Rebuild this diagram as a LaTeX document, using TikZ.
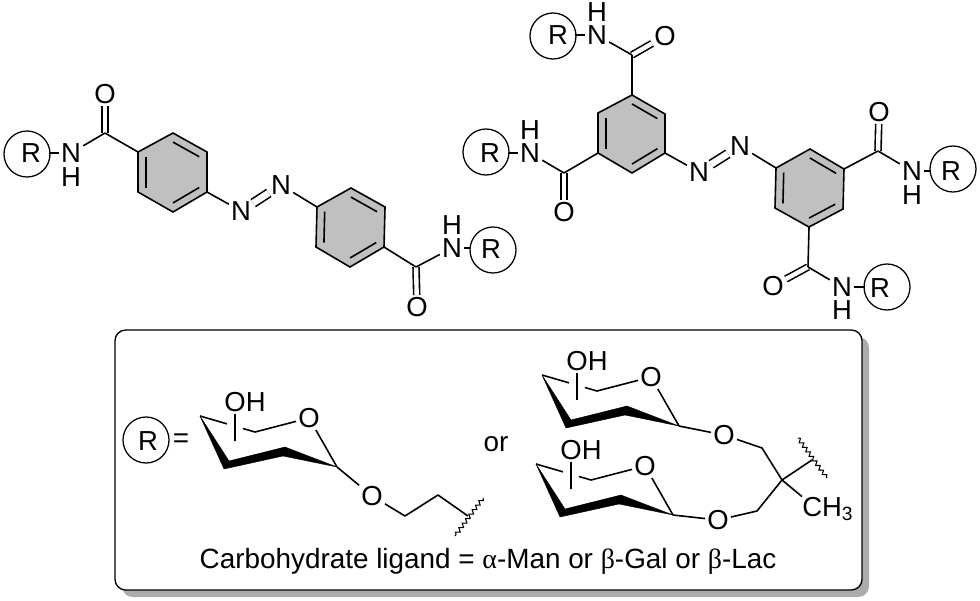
\documentclass[tikz,border=0pt]{standalone}
\usepackage{fontspec}
\setmainfont{Liberation Sans}
\newfontfamily\greekfont{Liberation Serif}
\usetikzlibrary{calc, decorations.pathmorphing}
\definecolor{ringgray}{RGB}{192,192,192}
\definecolor{shadowgray}{RGB}{172,172,172}
\tikzset{
  bond/.style = {line width=1.2pt},
  dblbond/.style = {bond, double, double distance=3.3pt},
  azobond/.style = {bond, double, double distance=5pt},
  atom/.style = {inner sep=1.5pt, font=\fontsize{20.6}{25}\selectfont},
  hatom/.style = {inner sep=0pt, font=\fontsize{20.6}{25}\selectfont},
  label/.style = {inner sep=0pt, font=\fontsize{20.9}{25}\selectfont},
  rgroup/.style = {circle, draw, line width=.95pt, inner sep=0pt, minimum size=34.5pt},
  wavy/.style = {line width=.8pt, decorate, decoration={snake, amplitude=1.4pt, segment length=4.2pt}},
  wedge/.style = {fill=black, draw=black, line width=.3pt, line join=round}
}
\newcommand{\benzring}[7]{
  \coordinate (#1a) at #2;
  \coordinate (#1b) at #3;
  \coordinate (#1c) at #4;
  \coordinate (#1d) at #5;
  \coordinate (#1e) at #6;
  \coordinate (#1f) at #7;
  \coordinate (#1m) at ($(#1a)!.5!(#1d)$);
  \draw [bond, fill=ringgray] (#1a) -- (#1b) -- (#1c) -- (#1d) -- (#1e) -- (#1f) -- cycle;
  \draw [bond] ($(#1a)!.23!(#1m)$) -- ($(#1b)!.23!(#1m)$);
  \draw [bond] ($(#1c)!.23!(#1m)$) -- ($(#1d)!.23!(#1m)$);
  \draw [bond] ($(#1e)!.23!(#1m)$) -- ($(#1f)!.23!(#1m)$);
}
\begin{document}
\begin{tikzpicture}[x=.75pt, y=-.75pt]
  \useasboundingbox (0,0) rectangle (980,600);

  \benzring{ra}{(173,133)}{(207,152)}{(207,192)}{(173,212)}{(138,192)}{(138,152)}
  \benzring{rb}{(351,188)}{(385,207)}{(384,247)}{(350,267)}{(316,247)}{(317,207)}
  \benzring{rc}{(632,95)}{(665,114)}{(665,153)}{(632,173)}{(598,153)}{(598,113)}
  \benzring{rd}{(810,149)}{(844,169)}{(843,209)}{(809,227)}{(775,208)}{(776,168)}

  \node (Ra) at (27,154) [rgroup] {};
  \node (Rta) at (31,153) [hatom] {R};
  \node (Na) at (71,153) [atom] {N};
  \node (Ha) at (71,177) [hatom] {H};
  \coordinate (Ca) at (105,133);
  \node (Oa) at (105,94) [atom] {O};
  \draw [dblbond] (Ca) -- (Oa);
  \draw [bond] (Na) -- (Ca);
  \draw [bond] (Ca) -- (raf);
  \draw [bond] (Na) -- ([xshift=-1.5pt]Na -| Ra.east);

  \node (Az) at (241,211) [atom] {N};
  \node (Bz) at (281,185) [atom] {N};
  \draw [azobond] (Az) -- (Bz);
  \draw [bond] (rac) -- (Az);
  \draw [bond] (Bz) -- (rbf);

  \coordinate (Cb) at (416,267);
  \node (Ob) at (417,307) [atom] {O};
  \node (Nb) at (452,248) [atom] {N};
  \node (Hb) at (452,225) [hatom] {H};
  \node (Rb) at (493,250) [rgroup] {};
  \node (Rtb) at (491,249) [hatom] {R};
  \draw [dblbond] (Cb) -- (Ob);
  \draw [bond] (rbc) -- (Cb);
  \draw [bond] (Cb) -- (Nb);
  \draw [bond] (Nb) -- ([xshift=1.5pt]Nb -| Rb.west);

  \coordinate (Cc) at (632,55);
  \node (Oc) at (665,36) [atom] {O};
  \node (Nc) at (597,35) [atom] {N};
  \node (Hc) at (597,12) [hatom] {H};
  \node (Rc) at (553,36) [rgroup] {};
  \node (Rtc) at (558,35) [hatom] {R};
  \draw [dblbond] (Cc) -- (Oc);
  \draw [bond] (rca) -- (Cc);
  \draw [bond] (Cc) -- (Nc);
  \draw [bond] (Nc) -- ([xshift=-1.5pt]Nc -| Rc.east);

  \coordinate (Cd) at (564,173);
  \node (Od) at (564,212) [atom] {O};
  \node (Nd) at (530,153) [atom] {N};
  \node (Hd) at (530,130) [hatom] {H};
  \node (Rd) at (486,152) [rgroup] {};
  \node (Rtd) at (490,153) [hatom] {R};
  \draw [dblbond] (Cd) -- (Od);
  \draw [bond] (rce) -- (Cd);
  \draw [bond] (Cd) -- (Nd);
  \draw [bond] (Nd) -- ([xshift=-1.5pt]Nd -| Rd.east);

  \node (Cz) at (699,172) [atom] {N};
  \node (Dz) at (740,146) [atom] {N};
  \draw [azobond] (Cz) -- (Dz);
  \draw [bond] (rcc) -- (Cz);
  \draw [bond] (Dz) -- (rdf);

  \coordinate (Ce) at (878,151);
  \node (Oe) at (879,112) [atom] {O};
  \node (Ne) at (912,171) [atom] {N};
  \node (He) at (912,195) [hatom] {H};
  \node (Re) at (953,169) [rgroup] {};
  \node (Rte) at (951,171) [hatom] {R};
  \draw [dblbond] (Ce) -- (Oe);
  \draw [bond] (rdb) -- (Ce);
  \draw [bond] (Ce) -- (Ne);
  \draw [bond] (Ne) -- ([xshift=1.5pt]Ne -| Re.west);

  \coordinate (Cf) at (808,267);
  \node (Of) at (773,286) [atom] {O};
  \node (Nf) at (842,287) [atom] {N};
  \node (Hf) at (842,310) [hatom] {H};
  \node (Rf) at (887,287) [rgroup] {};
  \node (Rtf) at (880,288) [hatom] {R};
  \draw [dblbond] (Cf) -- (Of);
  \draw [bond] (rdd) -- (Cf);
  \draw [bond] (Cf) -- (Nf);
  \draw [bond] (Nf) -- ([xshift=1.5pt]Nf -| Rf.west);

  \fill [shadowgray, rounded corners=8pt] (122,337) rectangle (869,597);
  \draw [line width=1pt, fill=white, rounded corners=8pt] (115,330) rectangle (862,590);

  \foreach \p/\dx/\dy in {sa/0/0, sb/342/-41, sc/336/48} {
    \begin{scope}[shift={(\dx,\dy)}, name prefix=\p-]
      \coordinate (A) at (200,416);
      \coordinate (E) at (255,432);
      \coordinate (D) at (337,467);
      \coordinate (up) at (235,414);
      \coordinate (lo) at (235,441);
      \node (O) at (309,418) [atom] {O};
      \node (OH) at (245,402) [hatom] {OH};
      \draw [wedge] (A) -- (229,461) -- (285,447) -- (D) -- (283,456) -- (224,469) -- cycle;
      \draw [bond] (A) -- ($(A)!.49!(E)$);
      \draw [bond] ($(A)!.78!(E)$) -- (E);
      \draw [bond] (E) -- (O);
      \draw [bond] (O) -- (D);
      \draw [bond] (up) -- (lo);
    \end{scope}
  }

  \node (Rg) at (146,440) [rgroup] {};
  \node (Rtg) at (148,441) [hatom] {R};
  \node (eq) at (181,441) [label] {=};
  \node (or) at (496,451) [label, anchor=base] {or};

  \node (Og) at (372,496) [atom] {O};
  \coordinate (La) at (405,516);
  \coordinate (Lb) at (438,495);
  \coordinate (Lc) at (468,516);
  \coordinate (Wa) at (483,498);
  \coordinate (Wb) at (455,536);
  \draw [bond] (sa-D) -- (Og);
  \draw [bond, line join=round] (Og) -- (La) -- (Lb) -- (Lc);
  \draw [wavy] (Wa) -- (Wb);

  \node (Oh) at (724,435) [atom] {O};
  \node (Oi) at (718,520) [atom] {O};
  \coordinate (Ld) at (762,448);
  \coordinate (Le) at (757,511);
  \coordinate (Q) at (782,480);
  \coordinate (Lf) at (812,460);
  \coordinate (Wc) at (798,438);
  \coordinate (Wd) at (827,478);
  \node (Me) at (802,516) [atom, anchor=base west, inner sep=0pt] {CH\textsubscript{3}};
  \draw [bond] (sb-D) -- (Oh);
  \draw [bond] (sc-D) -- (Oi);
  \draw [bond, line join=round] (Oh) -- (Ld) -- (Q);
  \draw [bond, line join=round] (Oi) -- (Le) -- (Q);
  \draw [bond] (Q) -- (Lf);
  \draw [bond] (Q) -- (Me.north west);
  \draw [wavy] (Wc) -- (Wd);

  \node (cap) at (488,568) [label, anchor=base] {Carbohydrate ligand = {\greekfont α}-Man or {\greekfont β}-Gal or {\greekfont β}-Lac};
\end{tikzpicture}
\end{document}
